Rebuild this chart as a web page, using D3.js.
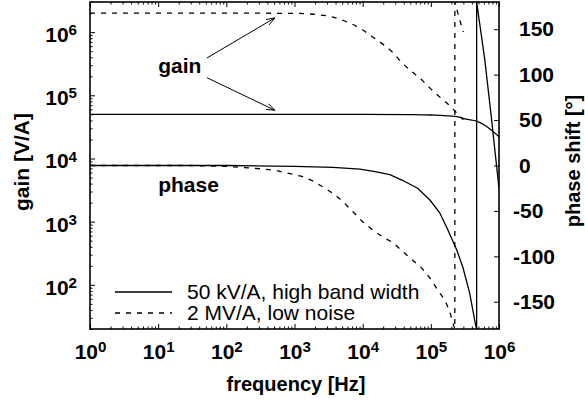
<!DOCTYPE html>
<html><head><meta charset="utf-8">
<script src="https://cdn.jsdelivr.net/npm/d3@7"></script>
<style>
html,body{margin:0;padding:0;background:#fff;}
svg{display:block;font-family:"Liberation Sans",Arial,Helvetica,sans-serif;}
</style></head>
<body>
<script>
// ---- data ----
const seriesNames = ["50 kV/A, high band width", "2 MV/A, low noise"];
// gain [V/A] vs frequency [Hz]
const gainHigh = [[1,5e4],[1e3,5e4],[1e4,5e4],[5e4,4.95e4],[1e5,4.88e4],[2.4e5,4.6e4],[3.3e5,4.2e4],[4.7e5,3.9e4],[6.6e5,3.2e4],[1e6,2.2e4]];
const gainLow = [[1,2e6],[100,2e6],[1e3,1.98e6],[3.1e3,1.8e6],[4.6e3,1.6e6],[6.9e3,1.35e6],[1e4,1.08e6],[1.4e4,8.4e5],[2e4,6.4e5],[2.8e4,4.7e5],[3.8e4,3.25e5],[5.3e4,2.35e5],[7.4e4,1.75e5],[9.7e4,1.3e5],[1.35e5,9.4e4],[1.78e5,7.3e4],[2.3e5,5.5e4],[3e5,4.1e4]];
// phase shift [deg] vs frequency [Hz] (wrapped at -180 -> +180)
const phaseHigh = [[1,0],[100,0],[1e3,-1],[3.66e3,-2],[9.1e3,-4],[1.6e4,-7],[2.5e4,-10],[3.76e4,-16],[6.4e4,-25],[9.7e4,-38],[1.35e5,-52],[1.78e5,-71],[2.4e5,-93],[2.95e5,-112],[3.7e5,-140],[4.6e5,-178],[4.7e5,-180],[4.7e5,180],[6.2e5,116],[7.8e5,50],[1e6,-25]];
const phaseLow = [[1,0],[30,0],[100,-1],[245,-3],[368,-4],[571,-6],[857,-9],[1.29e3,-12],[1.86e3,-17],[2.8e3,-25],[3.9e3,-32],[5.5e3,-42],[7.2e3,-51],[1e4,-62],[1.4e4,-71],[2e4,-79],[2.8e4,-85],[3.9e4,-95],[7.4e4,-113],[9.7e4,-124],[1.26e5,-137],[1.6e5,-148],[1.9e5,-161],[2.1e5,-173],[2.25e5,-180],[2.25e5,180],[2.66e5,160],[3e5,147]];
const xTicks = [1,10,100,1e3,1e4,1e5,1e6];
const gainTicks = [1e2,1e3,1e4,1e5,1e6];
const phaseTicks = [-150,-100,-50,0,50,100,150];
// annotations (data coords)
const gainLabel = {text:"gain", f:10, g:2.26e5};
const phaseLabel = {text:"phase", f:10, p:-29};
const arrows = [[[52,3.9e5],[515,1.68e6]], [[52,1.9e5],[515,5.8e4]]];

// ---- layout ----
const W = 585, H = 403;
const L = 90, R = 499, T = 2, B = 329;
const svg = d3.select("body").append("svg").attr("width",W).attr("height",H);

const x = d3.scaleLog().domain([1,1e6]).range([L,R]);
const yG = d3.scaleLog().domain([20,3e6]).range([B,T]);
const yP = d3.scaleLinear().domain([-180,180]).range([B,T]);

function minorTicks(scale){
  const [a,b] = scale.domain(); const out=[];
  for(let e=Math.floor(Math.log10(a)); e<=Math.ceil(Math.log10(b)); e++){
    for(let m=2;m<=9;m++){const v=m*Math.pow(10,e); if(v>=a&&v<=b) out.push(v);}
  }
  return out;
}
function powLabel(sel){
  sel.selectAll(".tick text").each(function(d){
    const t=d3.select(this); const e=Math.round(Math.log10(d));
    t.text(null);
    t.append("tspan").text("10");
    t.append("tspan").attr("dy","-0.45em").attr("font-size","0.72em").text(String(e));
  });
}
const font = "'Liberation Sans',Arial,sans-serif";
const axisFont = sel => sel.attr("font-size",21).attr("font-weight","bold").attr("font-family",font);

// clip
svg.append("clipPath").attr("id","clip").append("rect").attr("x",L).attr("y",T).attr("width",R-L).attr("height",B-T);

// bottom axis
const gB = svg.append("g").attr("transform",`translate(0,${B})`);
gB.call(d3.axisBottom(x).tickValues(xTicks).tickSize(-5).tickPadding(15));
gB.call(powLabel);
gB.append("g").call(d3.axisBottom(x).tickValues(minorTicks(x)).tickSize(-2.5).tickFormat(""));
// top axis (ticks only)
const gT = svg.append("g").attr("transform",`translate(0,${T})`);
gT.call(d3.axisTop(x).tickValues(xTicks).tickSize(-5).tickFormat(""));
gT.append("g").call(d3.axisTop(x).tickValues(minorTicks(x)).tickSize(-2.5).tickFormat(""));
// left axis
const gL = svg.append("g").attr("transform",`translate(${L},0)`);
gL.call(d3.axisLeft(yG).tickValues(gainTicks).tickSize(-5).tickPadding(13));
gL.call(powLabel);
gL.append("g").call(d3.axisLeft(yG).tickValues(minorTicks(yG)).tickSize(-2.5).tickFormat(""));
// right axis
const gR = svg.append("g").attr("transform",`translate(${R},0)`);
gR.call(d3.axisRight(yP).tickValues(phaseTicks).tickSize(-5).tickPadding(14).tickFormat(d=>String(d)));
gR.selectAll(".tick text").attr("dx", d=> d>=0 ? 6 : 0);

[gB,gT,gL,gR].forEach(g=>{
  g.selectAll(".domain").remove();
  g.selectAll("line").attr("stroke","#000").attr("stroke-width",1);
  g.call(axisFont);
  g.selectAll("text").attr("fill","#000");
});
gL.selectAll(".tick text").attr("dy","0.45em");

// frame
svg.append("rect").attr("x",L).attr("y",T).attr("width",R-L).attr("height",B-T)
  .attr("fill","none").attr("stroke","#000").attr("stroke-width",1.6);

// curves
const plot = svg.append("g").attr("clip-path","url(#clip)");
const lineG = d3.line().x(d=>x(d[0])).y(d=>yG(d[1])).curve(d3.curveMonotoneX);
const lineP = d3.line().x(d=>x(d[0])).y(d=>yP(d[1]));
const solid = {stroke:"#000", w:1.3, dash:null};
const dashed = {stroke:"#000", w:1.3, dash:"5,6"};
function draw(data, gen, st){
  plot.append("path").datum(data).attr("d",gen).attr("fill","none")
    .attr("stroke",st.stroke).attr("stroke-width",st.w).attr("stroke-dasharray",st.dash);
}
draw(gainHigh, lineG, solid);
draw(gainLow, lineG, dashed);
draw(phaseHigh, lineP, solid);
draw(phaseLow, lineP, dashed);

// annotations
svg.append("text").attr("x",x(gainLabel.f)).attr("y",yG(gainLabel.g)).text(gainLabel.text)
  .attr("font-size",21).attr("font-weight","bold").attr("font-family",font);
svg.append("text").attr("x",x(phaseLabel.f)).attr("y",yP(phaseLabel.p)).text(phaseLabel.text)
  .attr("font-size",21).attr("font-weight","bold").attr("font-family",font);
arrows.forEach(a=>{
  const x1=x(a[0][0]), y1=yG(a[0][1]), x2=x(a[1][0]), y2=yG(a[1][1]);
  const ang=Math.atan2(y2-y1,x2-x1), hl=9, ha=0.35;
  svg.append("line").attr("x1",x1).attr("y1",y1).attr("x2",x2).attr("y2",y2).attr("stroke","#000").attr("stroke-width",1);
  svg.append("path").attr("d",`M${x2-hl*Math.cos(ang-ha)},${y2-hl*Math.sin(ang-ha)}L${x2},${y2}L${x2-hl*Math.cos(ang+ha)},${y2-hl*Math.sin(ang+ha)}`)
    .attr("fill","none").attr("stroke","#000").attr("stroke-width",1);
});

// legend
const leg = svg.append("g");
[solid,dashed].forEach((st,i)=>{
  const yy = 292 + i*21;
  leg.append("line").attr("x1",115).attr("x2",172).attr("y1",yy).attr("y2",yy)
    .attr("stroke",st.stroke).attr("stroke-width",st.w).attr("stroke-dasharray",st.dash);
  leg.append("text").attr("x",187).attr("y",yy+7).text(seriesNames[i])
    .attr("font-size",21).attr("font-family",font).attr("fill","#000");
});

// axis titles
svg.append("text").attr("x",296).attr("y",391).attr("text-anchor","middle")
  .attr("font-size",20).attr("font-weight","bold").attr("font-family",font).text("frequency [Hz]");
svg.append("text").attr("transform",`translate(29,162) rotate(-90)`).attr("text-anchor","middle")
  .attr("font-size",21).attr("font-weight","bold").attr("font-family",font).text("gain [V/A]");
svg.append("text").attr("transform",`translate(580,161) rotate(-90)`).attr("text-anchor","middle")
  .attr("font-size",20).attr("font-weight","bold").attr("font-family",font).text("phase shift [°]");
</script>
</body></html>
